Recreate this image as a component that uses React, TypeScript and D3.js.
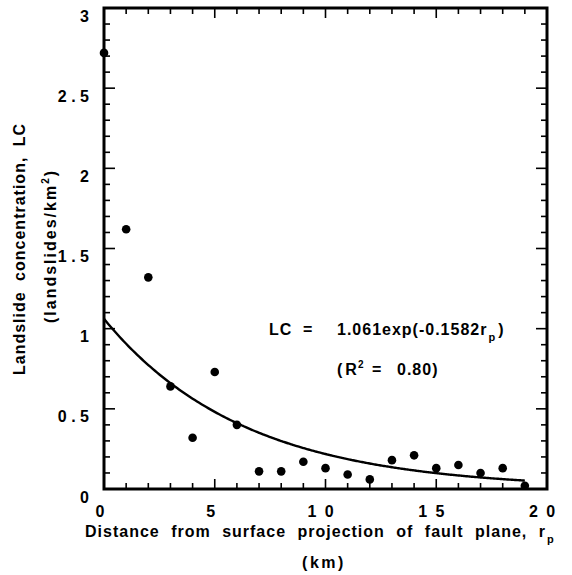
import React from "react";
import * as d3 from "d3";

const distances = [0, 1, 2, 3, 4, 5, 6, 7, 8, 9, 10, 11, 12, 13, 14, 15, 16, 17, 18, 19];
const concentrations = [2.72, 1.62, 1.32, 0.64, 0.32, 0.73, 0.40, 0.11, 0.11, 0.17, 0.13, 0.09, 0.06, 0.18, 0.21, 0.13, 0.15, 0.10, 0.13, 0.02];
const xTickValues = [0, 5, 10, 15, 20];
const xTickLabels = ["0", "5", "1 0", "1 5", "2 0"];
const yTickValues = [0, 0.5, 1, 1.5, 2, 2.5, 3];
const yTickLabels = ["0", "0 . 5", "1", "1 . 5", "2", "2 . 5", "3"];
const fitA = 1.061;
const fitB = 0.1582;
const fitRange = [0, 19];

const W = 572;
const H = 575;
const L = 104, T = 8, R = 547, B = 489;
const FONT = "'Liberation Sans', Arial, Helvetica, sans-serif";

export default function App() {
  const x = d3.scaleLinear().domain([0, 20]).range([L, R]);
  const y = d3.scaleLinear().domain([0, 3]).range([B, T]);

  const xMinor = d3.range(0, 21, 1);
  const yMinor = d3.range(0, 31, 1).map((v) => v / 10);

  const curvePts = d3.range(fitRange[0], fitRange[1] + 0.001, 0.1).map((r) => [r, fitA * Math.exp(-fitB * r)] as [number, number]);
  const line = d3.line<[number, number]>().x((d) => x(d[0])).y((d) => y(d[1])).curve(d3.curveMonotoneX);

  const textStyle = { fontFamily: FONT, fontWeight: 700, fill: "#000" } as const;

  return (
    <svg width={W} height={H} style={{ position: "absolute", left: 0, top: 0, background: "#fff" }}>
      <rect x={0} y={0} width={W} height={H} fill="#fff" />
      {/* ticks */}
      <g stroke="#000" strokeWidth={1.6}>
        {xMinor.map((v) => {
          const major = v % 5 === 0;
          const len = major ? 10 : 6;
          return (
            <g key={"xt" + v}>
              <line x1={x(v)} x2={x(v)} y1={B} y2={B - len} />
              <line x1={x(v)} x2={x(v)} y1={T} y2={T + len} />
            </g>
          );
        })}
        {yMinor.map((v, i) => {
          const major = i % 5 === 0;
          const len = major ? 11 : 6;
          return (
            <g key={"yt" + i}>
              <line x1={L} x2={L + len} y1={y(v)} y2={y(v)} />
              <line x1={R} x2={R - len} y1={y(v)} y2={y(v)} />
            </g>
          );
        })}
      </g>
      {/* frame */}
      <rect x={L} y={T} width={R - L} height={B - T} fill="none" stroke="#000" strokeWidth={3} />

      {/* fit curve */}
      <path d={line(curvePts) || ""} fill="none" stroke="#000" strokeWidth={2.4} />

      {/* points */}
      {distances.map((d, i) => (
        <circle key={"p" + i} cx={x(d)} cy={y(concentrations[i])} r={4.3} fill="#000" />
      ))}

      {/* y tick labels */}
      {yTickValues.map((v, i) => (
        <text key={"yl" + i} x={89} y={y(v) + 13.5} textAnchor="end" fontSize={16} style={textStyle} xmlSpace="preserve">
          {yTickLabels[i]}
        </text>
      ))}
      {/* x tick labels */}
      {xTickValues.map((v, i) => (
        <text key={"xl" + i} x={x(v) - 4} y={517} textAnchor="middle" fontSize={16} letterSpacing={i >= 2 ? 2 : 0} style={textStyle} xmlSpace="preserve">
          {xTickLabels[i]}
        </text>
      ))}

      {/* x axis title */}
      <text x={85} y={537} fontSize={16} letterSpacing={1} wordSpacing={6} style={textStyle}>
        Distance from surface projection of fault plane, r
        <tspan fontSize={11} dy={6} dx={1}>p</tspan>
      </text>
      <text x={324} y={568} textAnchor="middle" fontSize={16} letterSpacing={2.5} style={textStyle}>
        (km)
      </text>

      {/* y axis title */}
      <text transform="translate(25,375) rotate(-90)" fontSize={16} letterSpacing={1} wordSpacing={5} style={textStyle}>
        Landslide concentration, LC
      </text>
      <text transform="translate(56,323) rotate(-90)" fontSize={16} letterSpacing={2} style={textStyle}>
        (landslides/km
        <tspan fontSize={10} dy={-7}>2</tspan>
        <tspan dy={7}>)</tspan>
      </text>

      {/* equation */}
      <text y={335} fontSize={16} letterSpacing={1} style={textStyle}>
        <tspan x={269}>LC</tspan>
        <tspan x={303}>=</tspan>
        <tspan x={337}>1.061exp(-0.1582r</tspan>
        <tspan fontSize={11} dy={6} dx={1}>p</tspan>
        <tspan dy={-6} dx={2}>)</tspan>
      </text>
      <text y={375} fontSize={16} letterSpacing={1} style={textStyle}>
        <tspan x={337}>(</tspan>
        <tspan dx={2}>R</tspan>
        <tspan fontSize={10} dy={-7}>2</tspan>
        <tspan x={372} dy={7}>=</tspan>
        <tspan x={397}>0.80)</tspan>
      </text>
    </svg>
  );
}
